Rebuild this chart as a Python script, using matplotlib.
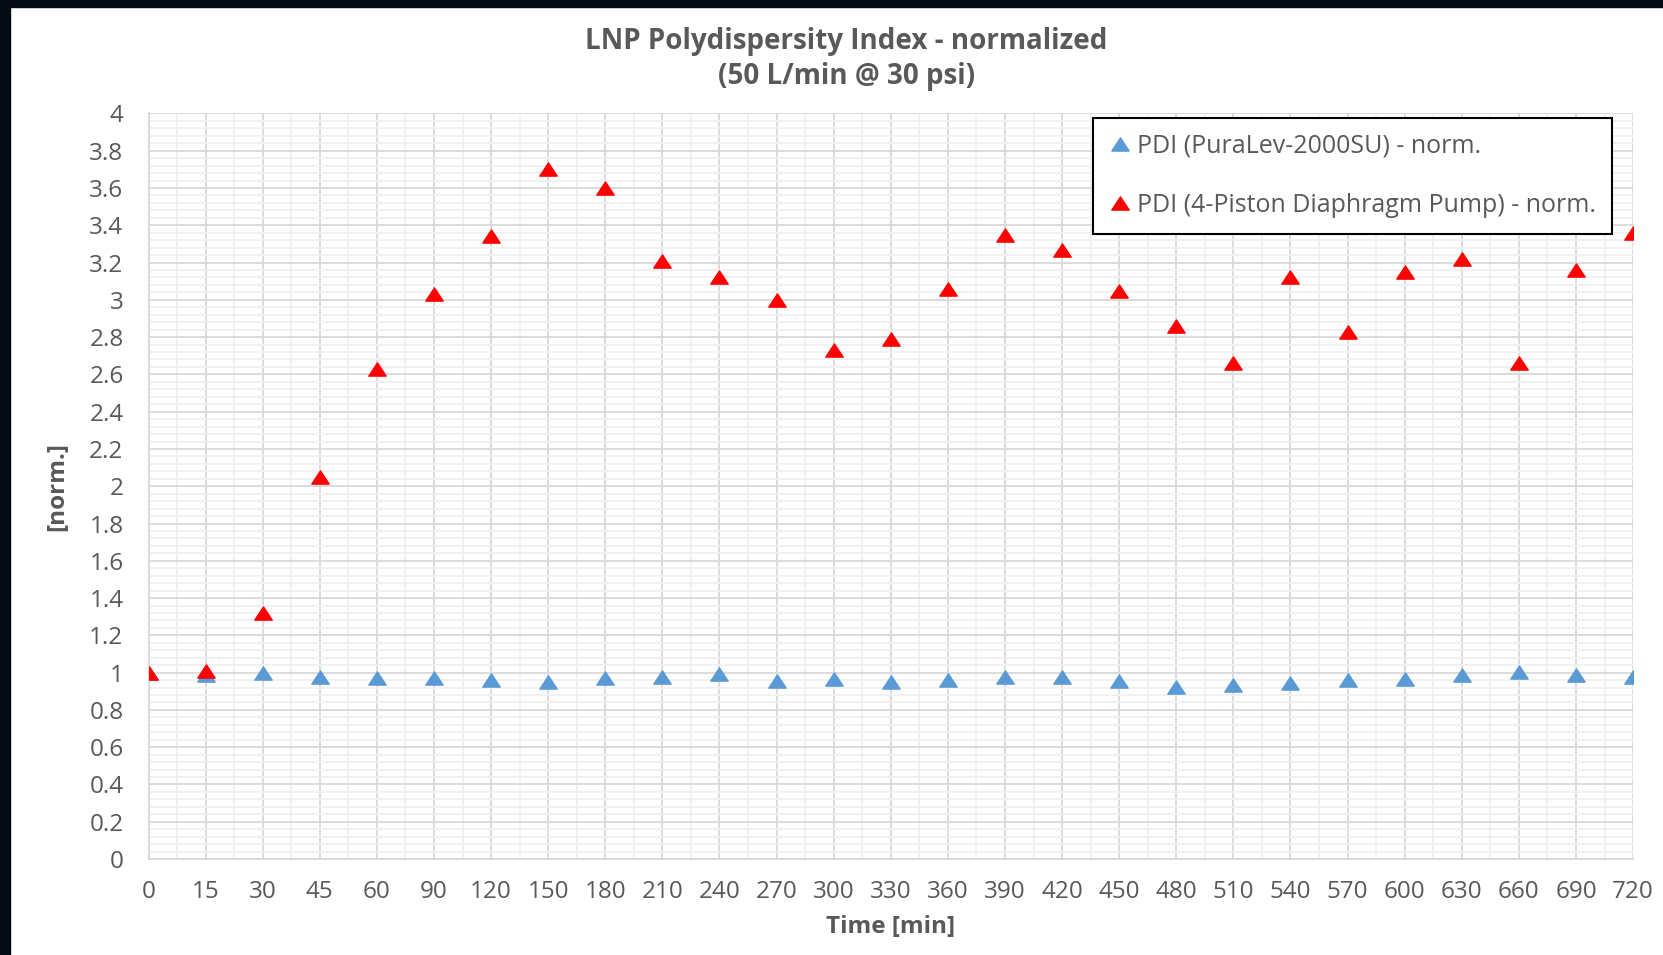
import matplotlib
matplotlib.use("Agg")
import matplotlib.pyplot as plt
from matplotlib.path import Path
from matplotlib.patches import Rectangle
import numpy as np

plt.rcParams['font.family'] = ['Open Sans', 'DejaVu Sans']

time_labels = ['0', '15', '30', '45', '60', '90', '120', '150', '180', '210',
               '240', '270', '300', '330', '360', '390', '420', '450', '480',
               '510', '540', '570', '600', '630', '660', '690', '720']

pdi_puralev = [1.00, 0.988, 1.00, 0.979, 0.970, 0.973, 0.961, 0.952, 0.973, 0.979,
               0.993, 0.954, 0.968, 0.948, 0.963, 0.975, 0.975, 0.956, 0.925,
               0.936, 0.947, 0.963, 0.968, 0.986, 1.004, 0.986, 0.977]

pdi_diaphragm = [1.00, 1.011, 1.32, 2.05, 2.63, 3.03, 3.34, 3.70, 3.60, 3.21,
                 3.12, 3.00, 2.73, 2.79, 3.06, 3.35, 3.27, 3.05, 2.86,
                 2.66, 3.12, 2.83, 3.15, 3.22, 2.66, 3.16, 3.36]

y_ticks = [0, 0.2, 0.4, 0.6, 0.8, 1, 1.2, 1.4, 1.6, 1.8, 2, 2.2, 2.4, 2.6,
           2.8, 3, 3.2, 3.4, 3.6, 3.8, 4]
y_tick_labels = ['0', '0.2', '0.4', '0.6', '0.8', '1', '1.2', '1.4', '1.6', '1.8',
                 '2', '2.2', '2.4', '2.6', '2.8', '3', '3.2', '3.4', '3.6', '3.8', '4']

# Excel style triangle: wider than tall
tri = Path([(0, 0.76), (-1, -0.76), (1, -0.76), (0, 0.76)],
           [Path.MOVETO, Path.LINETO, Path.LINETO, Path.CLOSEPOLY])

txt = '#595959'
grid_major = '#d9d9d9'
grid_minor = '#f0f0f0'

fig = plt.figure(figsize=(16.63, 9.55), dpi=100)
fig.patch.set_facecolor('white')
ax = fig.add_axes([0.0893, 0.1005, 0.8927, 0.7807])

x = np.arange(len(time_labels))
ax.plot(x, pdi_puralev, linestyle='none', marker=tri, markersize=12.5,
        color='#5b9bd5', label='PDI (PuraLev-2000SU) - norm.', zorder=3)
ax.plot(x, pdi_diaphragm, linestyle='none', marker=tri, markersize=12.5,
        color='#ff0000', label='PDI (4-Piston Diaphragm Pump) - norm.', zorder=4)

ax.set_xlim(0, len(time_labels) - 1)
ax.set_ylim(0, 4)
ax.set_xticks(x)
ax.set_xticklabels(time_labels)
ax.set_xticks(x[:-1] + 0.5, minor=True)
ax.set_yticks(y_ticks)
ax.set_yticklabels(y_tick_labels)
ax.set_yticks(np.arange(0, 4.001, 0.04), minor=True)

ax.grid(True, which='major', color=grid_major, linewidth=1.3, zorder=1)
ax.grid(True, which='minor', color=grid_minor, linewidth=1.3, zorder=0)
ax.set_axisbelow(True)
for s in ['top', 'right']:
    ax.spines[s].set_visible(False)
for s in ['left', 'bottom']:
    ax.spines[s].set_color(grid_major)
    ax.spines[s].set_linewidth(1.3)

ax.tick_params(which='both', length=0)
ax.tick_params(axis='x', pad=15, labelsize=17.5, labelcolor=txt)
ax.tick_params(axis='y', pad=18, labelsize=17.5, labelcolor=txt)

ax.set_xlabel('Time [min]', fontsize=17.5, fontweight='bold', color=txt, labelpad=8)
ax.set_ylabel('[norm.]', fontsize=17.5, fontweight='bold', color=txt, labelpad=14)

fig.text(0.509, 0.972, 'LNP Polydispersity Index - normalized\n(50 L/min @ 30 psi)',
         ha='center', va='top', fontsize=20, fontweight='bold', color=txt,
         linespacing=1.3)

leg = ax.legend(loc='upper left', bbox_to_anchor=(0.6365, 0.9945), fontsize=18,
                frameon=True, fancybox=False, edgecolor='black', framealpha=1,
                labelspacing=1.35, handletextpad=0.3, handlelength=0.8,
                borderpad=0.65, borderaxespad=0)
leg.get_frame().set_linewidth(1.5)
for t in leg.get_texts():
    t.set_color(txt)

# dark frame around the screenshot
fig.patches.append(Rectangle((0, 0.993), 1, 0.007, transform=fig.transFigure,
                             color='#050a14', zorder=10))
fig.patches.append(Rectangle((0, 0), 0.006, 1, transform=fig.transFigure,
                             color='#050a14', zorder=10))

fig.savefig('out.png', dpi=100, facecolor='white')
